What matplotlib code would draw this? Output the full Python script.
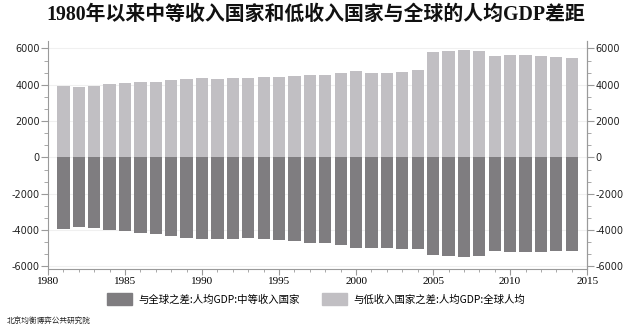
import matplotlib
matplotlib.use("Agg")
import matplotlib.pyplot as plt
from matplotlib.ticker import MultipleLocator, AutoMinorLocator
from matplotlib.patches import Patch

plt.rcParams["axes.unicode_minus"] = False

years = list(range(1981, 2015))
gap_low = [3944, 3870, 3907, 4019, 4093, 4130, 4167, 4259, 4333, 4370,
           4333, 4370, 4370, 4444, 4444, 4500, 4556, 4556, 4630, 4741,
           4667, 4667, 4704, 4796, 5778, 5852, 5926, 5852, 5556, 5630,
           5630, 5556, 5519, 5481]
gap_mid = [-3927, -3855, -3891, -4000, -4073, -4145, -4236, -4345, -4418, -4491,
           -4473, -4473, -4418, -4491, -4527, -4600, -4691, -4727, -4836, -4982,
           -4982, -4982, -5018, -5055, -5364, -5436, -5509, -5436, -5127, -5200,
           -5200, -5200, -5164, -5164]
title = "1980年以来中等收入国家和低收入国家与全球的人均GDP差距"
label_mid = "与全球之差:人均GDP:中等收入国家"
label_low = "与低收入国家之差:人均GDP:全球人均"
source = "北京均衡博弈公共研究院"

dark = "#7f7d80"
light = "#c1bfc3"
spine_c = "#9a9a9a"
cjk_sans = ["Noto Sans CJK SC", "DejaVu Sans"]
cjk_serif = ["Liberation Serif", "Noto Sans CJK SC"]

fig = plt.figure(figsize=(6.32, 3.29), dpi=100)
ax = fig.add_axes([0.076, 0.182, 0.853, 0.693])
ax.bar(years, gap_low, width=0.8, color=light, zorder=2)
ax.bar(years, gap_mid, width=0.8, color=dark, zorder=2)
ax.set_xlim(1980, 2015)
ax.set_ylim(-6150, 6400)
ax.yaxis.set_major_locator(MultipleLocator(2000))
ax.yaxis.set_minor_locator(AutoMinorLocator(3))
ax.xaxis.set_major_locator(MultipleLocator(5))
ax.xaxis.set_minor_locator(MultipleLocator(1))
ax.grid(axis="y", color="#f0f0f0", lw=0.8, zorder=0)
ax.spines["top"].set_visible(False)
for s in ["left", "right", "bottom"]:
    ax.spines[s].set_color(spine_c)
ax.tick_params(axis="y", which="major", length=5, color=spine_c, labelsize=7, labelcolor="#222222", pad=1)
ax.tick_params(axis="y", which="minor", length=3, color=spine_c)
ax.tick_params(axis="x", which="major", length=4, color=spine_c, labelsize=8, pad=2)
ax.tick_params(axis="x", which="minor", length=2.5, color=spine_c)
for t in ax.get_xticklabels():
    t.set_family("Liberation Serif")

ax2 = ax.twinx()
ax2.set_ylim(ax.get_ylim())
ax2.yaxis.set_major_locator(MultipleLocator(2000))
ax2.yaxis.set_minor_locator(AutoMinorLocator(3))
for s in ["top", "left", "bottom"]:
    ax2.spines[s].set_visible(False)
ax2.spines["right"].set_color(spine_c)
ax2.tick_params(axis="y", which="major", length=5, color=spine_c, labelsize=7, labelcolor="#222222", pad=1)
ax2.tick_params(axis="y", which="minor", length=3, color=spine_c)

fig.text(0.5, 0.955, title, ha="center", va="center", fontsize=14.3,
         fontweight="bold", family=cjk_serif, color="#111111")

handles = [Patch(color=dark), Patch(color=light)]
fig.legend(handles, [label_mid, label_low], loc="center", bbox_to_anchor=(0.5, 0.09),
           ncol=2, frameon=False, prop={"family": cjk_sans, "size": 7.5},
           handlelength=2.4, handleheight=1.4, columnspacing=2.2, handletextpad=0.6)
fig.text(0.01, 0.022, source, ha="left", va="center", fontsize=5.5, family=cjk_sans, color="#222222")

fig.savefig("out.png", dpi=100)
